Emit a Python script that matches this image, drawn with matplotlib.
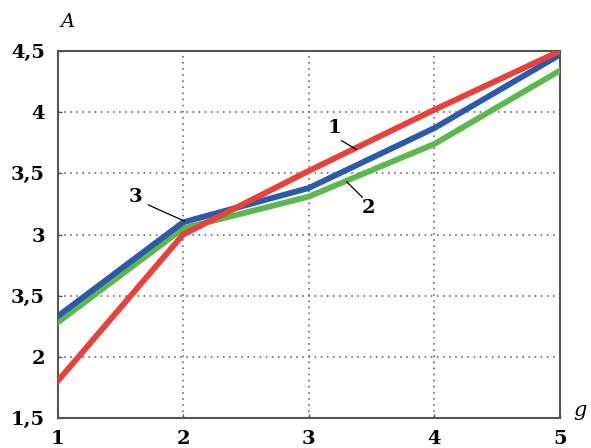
import matplotlib.pyplot as plt

# data
g = [1, 2, 3, 4, 5]
curve1 = [1.80, 3.00, 3.52, 4.02, 4.50]   # red
curve2 = [2.28, 3.05, 3.31, 3.74, 4.34]   # green
curve3 = [2.33, 3.10, 3.38, 3.87, 4.47]   # blue

xticks = [1, 2, 3, 4, 5]
yticks = [1.5, 2, 2.5, 3, 3.5, 4, 4.5]
ylabels = ['1,5', '2', '3,5', '3', '3,5', '4', '4,5']

font = 'DejaVu Serif'

fig = plt.figure(figsize=(5.91, 4.48), dpi=100)
ax = fig.add_axes([0.0973, 0.067, 0.85, 0.819])

ax.plot(g, curve2, color='#5cb84a', lw=4.2, solid_joinstyle='miter', zorder=3)
ax.plot(g, curve3, color='#2a5aa8', lw=4.2, solid_joinstyle='miter', zorder=4)
ax.plot(g, curve1, color='#e8403a', lw=4.2, solid_joinstyle='miter', zorder=5)

ax.set_xlim(1, 5)
ax.set_ylim(1.5, 4.5)
ax.set_xticks(xticks)
ax.set_xticklabels([str(x) for x in xticks])
ax.set_yticks(yticks)
ax.set_yticklabels(ylabels)
ax.grid(True, linestyle=(0, (1, 3)), color='#555555', lw=1.1)
ax.tick_params(direction='in', length=3, width=1, color='#555555', labelsize=14)
ax.tick_params(axis='x', pad=9)
ax.tick_params(axis='y', pad=9)
for lab in ax.get_xticklabels() + ax.get_yticklabels():
    lab.set_family(font)
    lab.set_weight('semibold')
for s in ax.spines.values():
    s.set_color('#555555')
    s.set_linewidth(1.5)

# curve labels with leader lines
lbl = dict(fontsize=14, family=font, weight='semibold', ha='center', va='center', zorder=6)
ax.text(3.209, 3.871, '1', **lbl)
ax.plot([3.263, 3.377], [3.767, 3.697], color='black', lw=0.9, zorder=6)
ax.text(3.475, 3.215, '2', **lbl)
ax.plot([3.427, 3.302], [3.305, 3.432], color='black', lw=0.9, zorder=6)
ax.text(1.617, 3.31, '3', **lbl)
ax.plot([1.723, 2.01], [3.242, 3.11], color='black', lw=0.9, zorder=6)

# axis names
fig.text(68 / 591, 1 - 22 / 448, 'A', fontsize=14, family=font, style='italic',
         ha='center', va='center')
fig.text(580 / 591, 1 - 410 / 448, 'g', fontsize=15, family=font, style='italic',
         ha='center', va='center')

fig.savefig('out.png', dpi=100)
